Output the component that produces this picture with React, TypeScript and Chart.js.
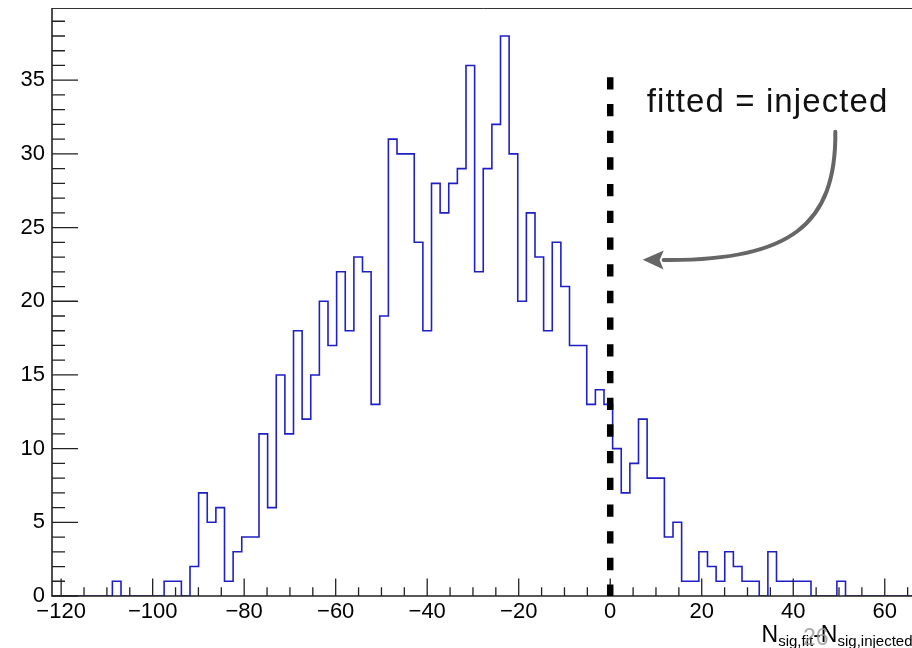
import { useEffect, useRef } from 'react';
import { Chart, registerables } from 'chart.js';

Chart.register(...registerables);

// ---- histogram definition (ROOT TH1, 100 bins) ----
const HIST_MIN = -122;
const HIST_MAX = 66.5;
const N_BINS = 100;
const BIN_WIDTH = (HIST_MAX - HIST_MIN) / N_BINS;

// bin contents, bin 0 .. bin 99
const COUNTS = [
  0, 0, 0, 0, 0, 0, 0, 1, 0, 0,
  0, 0, 0, 1, 1, 0, 2, 7, 5, 6,
  1, 3, 4, 4, 11, 6, 15, 11, 18, 12,
  15, 20, 17, 22, 18, 23, 22, 13, 19, 31,
  30, 30, 24, 18, 28, 26, 28, 29, 36, 22,
  29, 32, 38, 30, 20, 26, 23, 18, 24, 21,
  17, 17, 13, 14, 13, 10, 7, 9, 12, 8,
  8, 4, 5, 1, 1, 3, 2, 1, 3, 2,
  1, 1, 0, 3, 1, 1, 1, 1, 0, 0,
  0, 1, 0, 0, 0, 0, 0, 0, 0, 0,
];

// axes
const Y_MAX = 39.9;
const X_MAJOR_STEP = 20;
const X_MINOR_STEP = 5;
const Y_MAJOR_STEP = 5;
const Y_MINOR_STEP = 1;

// annotation (data coordinates)
const LINE_X = 0;
const LINE_TOP = 35.2;
const NOTE_TEXT = 'fitted = injected';
const NOTE_X = 8.0;
const NOTE_Y = 32.86;
const ARROW_START = [49.2, 31.5];
const ARROW_CP1 = [49.4, 25.2];
const ARROW_CP2 = [39.3, 22.7];
const ARROW_END = [10.8, 22.8];

// axis title pieces: [text, isSubscript]
const X_TITLE: [string, boolean][] = [
  ['N', false],
  ['sig,fit', true],
  ['-N', false],
  ['sig,injected', true],
];
const PAGE_NUMBER = '26';

const FONT = '"Liberation Sans", Arial, Helvetica, sans-serif';

const rootStyle = {
  id: 'rootStyle',
  afterDatasetsDraw(chart: any) {
    const { ctx, chartArea: a, scales } = chart;
    const xs = scales.x;
    const ys = scales.y;
    const px = (v: number) => xs.getPixelForValue(v);
    const py = (v: number) => ys.getPixelForValue(v);
    ctx.save();

    // frame
    ctx.strokeStyle = '#333';
    ctx.lineWidth = 1;
    ctx.beginPath();
    ctx.moveTo(a.left, a.top + 0.5);
    ctx.lineTo(a.right, a.top + 0.5);
    ctx.moveTo(a.right - 0.5, a.top);
    ctx.lineTo(a.right - 0.5, a.bottom);
    ctx.stroke();

    ctx.strokeStyle = '#222';
    ctx.lineWidth = 1.6;
    ctx.beginPath();
    ctx.moveTo(a.left, a.top);
    ctx.lineTo(a.left, a.bottom);
    ctx.lineTo(a.right, a.bottom);
    ctx.stroke();

    // x ticks (inward)
    ctx.lineWidth = 1.3;
    ctx.beginPath();
    const xStart = Math.ceil(HIST_MIN / X_MINOR_STEP) * X_MINOR_STEP;
    for (let v = xStart; v <= HIST_MAX + 1e-9; v += X_MINOR_STEP) {
      const len = v % X_MAJOR_STEP === 0 ? 17.6 : 8.8;
      const p = px(v);
      ctx.moveTo(p, a.bottom);
      ctx.lineTo(p, a.bottom - len);
    }
    // y ticks (inward)
    for (let v = 0; v <= Y_MAX + 1e-9; v += Y_MINOR_STEP) {
      const len = v % Y_MAJOR_STEP === 0 ? 26 : 13;
      const p = py(v);
      ctx.moveTo(a.left, p);
      ctx.lineTo(a.left + len, p);
    }
    ctx.stroke();

    // dashed "fitted = injected" line
    ctx.strokeStyle = '#000';
    ctx.lineWidth = 6.5;
    ctx.setLineDash([12.3, 14.4]);
    ctx.beginPath();
    ctx.moveTo(px(LINE_X), py(LINE_TOP));
    ctx.lineTo(px(LINE_X), py(0));
    ctx.stroke();
    ctx.setLineDash([]);

    // note text
    ctx.fillStyle = '#111';
    ctx.font = `33px ${FONT}`;
    (ctx as any).letterSpacing = '1.1px';
    ctx.textAlign = 'left';
    ctx.textBaseline = 'alphabetic';
    ctx.fillText(NOTE_TEXT, px(NOTE_X), py(NOTE_Y));
    (ctx as any).letterSpacing = '0px';

    // curved arrow
    const sx = px(ARROW_START[0]), sy = py(ARROW_START[1]);
    const c1x = px(ARROW_CP1[0]), c1y = py(ARROW_CP1[1]);
    const c2x = px(ARROW_CP2[0]), c2y = py(ARROW_CP2[1]);
    const ex = px(ARROW_END[0]), ey = py(ARROW_END[1]);
    ctx.strokeStyle = '#666';
    ctx.lineWidth = 4;
    ctx.lineCap = 'round';
    ctx.beginPath();
    ctx.moveTo(sx, sy);
    ctx.bezierCurveTo(c1x, c1y, c2x, c2y, ex + 4, ey);
    ctx.stroke();
    ctx.lineCap = 'butt';
    const ang = Math.atan2(ey - c2y, ex - c2x);
    const L = 21, W = 9.5;
    const tx = ex + Math.cos(ang) * (L - 4), ty = ey + Math.sin(ang) * (L - 4);
    const bx = tx - Math.cos(ang) * L, by = ty - Math.sin(ang) * L;
    const nx = -Math.sin(ang), ny = Math.cos(ang);
    ctx.fillStyle = '#666';
    ctx.beginPath();
    ctx.moveTo(tx, ty);
    ctx.lineTo(bx + nx * W, by + ny * W);
    ctx.lineTo(bx + Math.cos(ang) * 4, by + Math.sin(ang) * 4);
    ctx.lineTo(bx - nx * W, by - ny * W);
    ctx.closePath();
    ctx.fill();

    // x-axis title, right aligned at axis end
    const mainSize = 23, subSize = 15;
    const baseY = a.bottom + 45.5;
    let total = 0;
    for (const [t, sub] of X_TITLE) {
      ctx.font = `${sub ? subSize : mainSize}px ${FONT}`;
      total += ctx.measureText(t).width;
    }
    let cx = a.right - total - 2;
    ctx.fillStyle = '#000';
    for (const [t, sub] of X_TITLE) {
      ctx.font = `${sub ? subSize : mainSize}px ${FONT}`;
      ctx.fillText(t, cx, baseY + (sub ? 4.5 : 0));
      cx += ctx.measureText(t).width;
    }

    // slide page number overlay
    ctx.fillStyle = 'rgba(150,150,150,0.8)';
    ctx.font = `23px ${FONT}`;
    ctx.fillText(PAGE_NUMBER, a.right - 111.5, a.bottom + 49);

    ctx.restore();
  },
};

export default function App() {
  const ref = useRef<HTMLCanvasElement | null>(null);

  useEffect(() => {
    if (!ref.current) return;
    const points = COUNTS.map((c, i) => ({ x: HIST_MIN + i * BIN_WIDTH, y: c }));
    points.push({ x: HIST_MAX, y: COUNTS[COUNTS.length - 1] });

    const chart = new Chart(ref.current, {
      type: 'line',
      data: {
        datasets: [
          {
            data: points,
            stepped: 'before',
            borderColor: '#1f1fc6',
            borderWidth: 1.6,
            pointRadius: 0,
            fill: false,
            tension: 0,
          },
        ],
      },
      options: {
        responsive: false,
        animation: false,
        events: [],
        layout: { padding: { top: 8, right: 15.5, left: 0, bottom: 0 } },
        plugins: { legend: { display: false }, tooltip: { enabled: false }, title: { display: false } },
        scales: {
          x: {
            type: 'linear',
            min: HIST_MIN,
            max: HIST_MAX,
            grid: { display: false, drawTicks: false },
            border: { display: false },
            afterFit: (s: any) => {
              s.height = 52;
              s.paddingLeft = 0;
              s.paddingRight = 0;
            },
            ticks: {
              stepSize: X_MAJOR_STEP,
              includeBounds: false,
              autoSkip: false,
              maxRotation: 0,
              padding: 3,
              color: '#000',
              font: { family: FONT, size: 22 },
              callback: (v: any) => (v < 0 ? '\u2212' + Math.abs(v) : String(v)),
            },
          },
          y: {
            type: 'linear',
            min: 0,
            max: Y_MAX,
            grid: { display: false, drawTicks: false },
            border: { display: false },
            afterFit: (s: any) => {
              s.width = 52;
              s.paddingTop = 0;
              s.paddingBottom = 0;
            },
            ticks: {
              stepSize: Y_MAJOR_STEP,
              includeBounds: false,
              autoSkip: false,
              padding: 7,
              color: '#000',
              font: { family: FONT, size: 22 },
            },
          },
        },
      },
      plugins: [rootStyle],
    });
    return () => chart.destroy();
  }, []);

  return (
    <div
      style={{
        position: 'fixed',
        left: 0,
        top: 0,
        width: 912,
        height: 648,
        overflow: 'hidden',
        background: '#fff',
      }}
    >
      <canvas ref={ref} width={930} height={648} style={{ display: 'block', width: 930, height: 648 }} />
    </div>
  );
}
